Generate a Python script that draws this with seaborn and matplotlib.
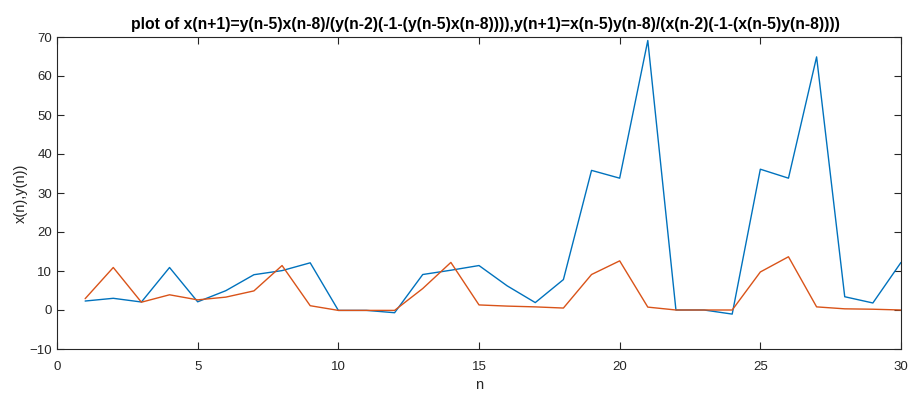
import matplotlib
matplotlib.use("Agg")
import matplotlib.pyplot as plt
import seaborn as sns
import pandas as pd

n = list(range(1, 31))
x_vals = [2.3, 3.0, 2.05, 10.9, 2.1, 4.95, 9.05, 10.1, 12.1, -0.1,
          -0.1, -0.7, 9.1, 10.2, 11.4, 6.2, 1.9, 7.8, 35.8, 33.8,
          69.1, 0.0, 0.0, -1.05, 36.1, 33.8, 64.9, 3.4, 1.8, 12.2]
y_vals = [2.9, 10.9, 2.0, 3.9, 2.6, 3.3, 4.9, 11.4, 1.1, -0.1,
          -0.1, -0.1, 5.5, 12.2, 1.3, 1.0, 0.8, 0.5, 9.1, 12.6,
          0.74, 0.0, 0.0, 0.0, 9.75, 13.65, 0.8, 0.3, 0.2, 0.0]

title = "plot of x(n+1)=y(n-5)x(n-8)/(y(n-2)(-1-(y(n-5)x(n-8)))),y(n+1)=x(n-5)y(n-8)/(x(n-2)(-1-(x(n-5)y(n-8))))"
xticks = [0, 5, 10, 15, 20, 25, 30]
yticks = [-10, 0, 10, 20, 30, 40, 50, 60, 70]

sns.set_theme(style="ticks")
plt.rcParams['font.family'] = ['Liberation Sans', 'DejaVu Sans']

df = pd.DataFrame({"n": n, "x": x_vals, "y": y_vals})

fig = plt.figure(figsize=(9.08, 3.93), dpi=100)
ax = fig.add_axes([57/908, 44/393, 844/908, 312/393])

sns.lineplot(data=df, x="n", y="x", ax=ax, color="#0072BD", linewidth=1.0)
sns.lineplot(data=df, x="n", y="y", ax=ax, color="#D95319", linewidth=1.0)

ax.set_xlim(0, 30)
ax.set_ylim(-10, 70)
ax.set_xticks(xticks)
ax.set_yticks(yticks)
ax.set_xlabel("n", fontsize=10.5, color="#262626", labelpad=4)
ax.set_ylabel("x(n),y(n))", fontsize=10.5, color="#262626", labelpad=1)
ax.set_title(title, fontsize=11.3, fontweight="bold", color="black", pad=6, x=0.508)

for s in ax.spines.values():
    s.set_visible(True)
    s.set_color("#262626")
    s.set_linewidth(0.8)
ax.tick_params(direction="in", length=5, width=0.8, top=True, right=True,
               labelsize=9.5, colors="#262626")
ax.tick_params(axis="x", pad=8.5)
ax.grid(False)

fig.savefig("out.png", dpi=100)
